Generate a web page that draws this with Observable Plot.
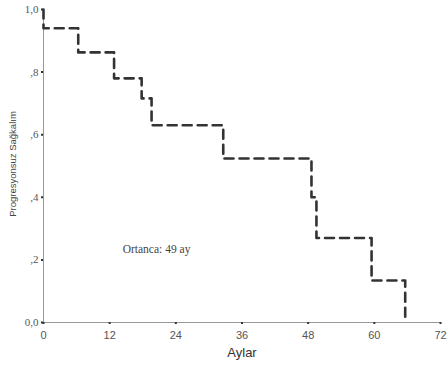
<!DOCTYPE html>
<html>
<head>
<meta charset="utf-8">
<script src="https://cdn.jsdelivr.net/npm/d3@7"></script>
<script src="https://cdn.jsdelivr.net/npm/@observablehq/plot@0.6"></script>
<style>
  body { margin: 0; background: #fff; }
</style>
</head>
<body>
<div id="chart"></div>
<script>
// Kaplan–Meier step curve (months, survival)
const months   = [0, 0,    6.3,  12.8, 17.8,  19.6, 32.6,  48.6, 49.5, 59.5,  65.6];
const survival = [1, 0.94, 0.863, 0.78, 0.716, 0.63, 0.524, 0.40, 0.27, 0.134, 0];

const xTicks = [0, 12, 24, 36, 48, 60, 72];
const yTicks = [0, 0.2, 0.4, 0.6, 0.8, 1.0];
const yTickLabels = ["0,0", ",2", ",4", ",6", ",8", "1,0"];

const annotation = [{x: 20.5, y: 0.235, text: "Ortanca: 49 ay"}];

const data = months.map((m, i) => ({m, s: survival[i]}));

const chart = Plot.plot({
  width: 448,
  height: 365,
  marginLeft: 43,
  marginRight: 8,
  marginTop: 9,
  marginBottom: 43,
  style: {fontFamily: "Liberation Sans, sans-serif", fontSize: "11px", color: "#555", background: "#fff"},
  x: {domain: [0, 72], ticks: xTicks},
  y: {domain: [0, 1], ticks: yTicks},
  marks: [
    Plot.ruleY([0], {stroke: "#999", strokeWidth: 1}),
    Plot.ruleX([0], {stroke: "#999", strokeWidth: 1}),
    Plot.axisX({ticks: xTicks, tickSize: 2, tickPadding: 7, stroke: "#333", strokeWidth: 2, fontSize: 11,
      fontFamily: "Liberation Sans, sans-serif", label: "Aylar", labelAnchor: "center", labelArrow: "none",
      labelOffset: 34}),
    Plot.axisY({ticks: yTicks, tickSize: 2, tickPadding: 3, stroke: "#333", strokeWidth: 2,
      tickFormat: (d) => yTickLabels[yTicks.indexOf(d)], fontFamily: "Liberation Serif, serif", fontSize: 11,
      label: null}),
    Plot.line(data, {x: "m", y: "s", curve: "step-after", stroke: "#333", strokeWidth: 2.6,
      strokeDasharray: "9,6"}),
    Plot.text(annotation, {x: "x", y: "y", text: "text", fontFamily: "Liberation Serif, serif",
      fontSize: 11.5, fill: "#444"})
  ]
});

// style the x axis label and add y axis label
const svg = d3.select(chart);
svg.selectAll("[aria-label='x-axis label'] text").attr("font-size", 13).attr("fill", "#333");
svg.append("text")
  .attr("transform", "translate(16,164) rotate(-90)")
  .attr("text-anchor", "middle")
  .attr("font-size", 9.5)
  .attr("fill", "#444")
  .attr("font-family", "Liberation Sans, sans-serif")
  .text("Progresyonsuz Sağkalım");

document.getElementById("chart").appendChild(chart);
</script>
</body>
</html>
